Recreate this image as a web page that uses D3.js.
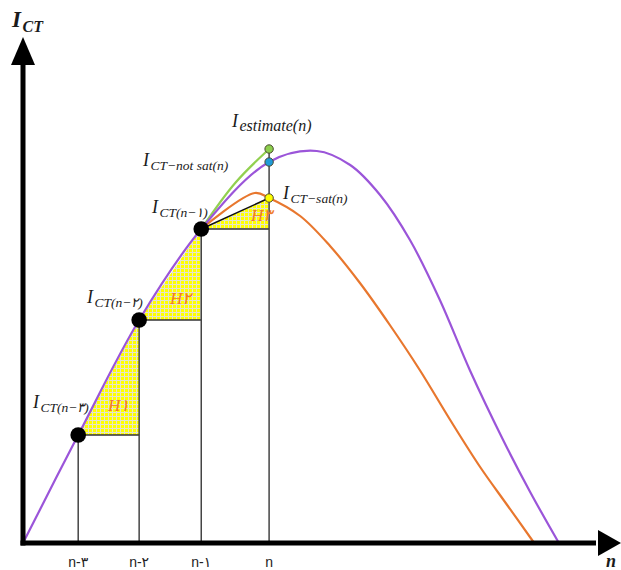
<!DOCTYPE html>
<html>
<head>
<meta charset="utf-8">
<script src="https://cdn.jsdelivr.net/npm/d3@7"></script>
<style>
  html, body { margin: 0; padding: 0; background: #fff; }
  svg { display: block; }
</style>
</head>
<body>
<svg id="chart" width="621" height="570"></svg>
<script>
// Sampling instants along the time axis
const sampleLabels = ["n-۳", "n-۲", "n-۱", "n"];
const sampleTimes  = [0.96, 2.02, 3.10, 4.28];
// Measured CT current at the three previous samples
const measuredCurrent = [21.6, 44.6, 62.8];
// Values at sample n
const satCurrent = 69.0;       // I_CT-sat(n)
const notSatCurrent = 76.2;    // I_CT-not sat(n)
const estimateCurrent = 78.8;  // I_estimate(n)

// Unsaturated current waveform (t, i)
const idealT = [0, 0.96, 2.02, 3.10, 4.28, 5.11, 5.69, 6.21, 6.73, 7.25, 7.77, 8.35, 8.82, 9.32];
const idealI = [0, 21.6, 44.6, 62.8, 76.2, 78.4, 75.6, 69.6, 60.6, 48.6, 34.6, 20.6, 10.2, 0];
// Saturated current waveform from sample n-1 onwards
const satT = [3.10, 4.03, 4.28, 4.82, 5.34, 5.86, 6.38, 6.90, 7.43, 7.95, 8.42, 8.89];
const satI = [62.8, 70.0, 69.0, 65.4, 59.4, 52.0, 43.6, 34.6, 24.6, 15.2, 7.6, 0];
// Estimated current curve from n-1 to n
const estT = [3.10, 3.69, 4.28];
const estI = [62.8, 72.0, 78.8];

const areaNames = ["H۱", "H۲", "H۳"];

const svg = d3.select("#chart");
const x = d3.scaleLinear().domain([0, 10]).range([23, 598]);
const y = d3.scaleLinear().domain([0, 100]).range([543, 43]);

const serif = "'Liberation Serif', 'DejaVu Serif', serif";
const textColor = "#1b1b1b";

// Grid-hatched yellow fill for the area triangles
const defs = svg.append("defs");
const pat = defs.append("pattern")
  .attr("id", "hatch").attr("patternUnits", "userSpaceOnUse")
  .attr("width", 4).attr("height", 4);
pat.append("rect").attr("width", 4).attr("height", 4).attr("fill", "#ffff00");
pat.append("path").attr("d", "M0,0.5H4M0.5,0V4")
  .attr("stroke", "#e4e4cc").attr("stroke-width", 1);

// Triangles between consecutive samples
const triPts = [];
for (let k = 0; k < 3; k++) {
  const t0 = sampleTimes[k], t1 = sampleTimes[k + 1];
  const v0 = measuredCurrent[k];
  const v1 = k < 2 ? measuredCurrent[k + 1] : satCurrent;
  triPts.push({ t0, t1, v0, v1, name: areaNames[k] });
}
svg.append("g").selectAll("path").data(triPts).join("path")
  .attr("d", d => `M${x(d.t0)},${y(d.v0)}L${x(d.t1)},${y(d.v1)}L${x(d.t1)},${y(d.v0)}Z`)
  .attr("fill", "url(#hatch)");

// Horizontal base of each triangle
svg.append("g").selectAll("line").data(triPts).join("line")
  .attr("x1", d => x(d.t0)).attr("x2", d => x(d.t1))
  .attr("y1", d => y(d.v0)).attr("y2", d => y(d.v0))
  .attr("stroke", "#333").attr("stroke-width", 1.5);

// Vertical sample lines
const topVals = [measuredCurrent[0], measuredCurrent[1], measuredCurrent[2], estimateCurrent];
svg.append("g").selectAll("line").data(sampleTimes).join("line")
  .attr("x1", d => x(d)).attr("x2", d => x(d))
  .attr("y1", (d, i) => y(topVals[i])).attr("y2", y(0))
  .attr("stroke", "#444").attr("stroke-width", 1.5);

// Chord from n-1 to the saturated sample
svg.append("line")
  .attr("x1", x(sampleTimes[2])).attr("y1", y(measuredCurrent[2]))
  .attr("x2", x(sampleTimes[3])).attr("y2", y(satCurrent))
  .attr("stroke", "#111").attr("stroke-width", 1.5);

// Current waveforms
const line = d3.line().x(d => x(d[0])).y(d => y(d[1])).curve(d3.curveCatmullRom.alpha(0.5));
svg.append("path").datum(d3.zip(estT, estI)).attr("d", line)
  .attr("fill", "none").attr("stroke", "#92d050").attr("stroke-width", 2.2);
svg.append("path").datum(d3.zip(satT, satI)).attr("d", line)
  .attr("fill", "none").attr("stroke", "#e8772e").attr("stroke-width", 2.2);
svg.append("path").datum(d3.zip(idealT, idealI)).attr("d", line)
  .attr("fill", "none").attr("stroke", "#9b55d9").attr("stroke-width", 2.2);

// Axes with arrow heads
const axisW = 5;
svg.append("line").attr("x1", x(0)).attr("x2", x(0))
  .attr("y1", y(0) + axisW / 2).attr("y2", y(0) - 480)
  .attr("stroke", "#000").attr("stroke-width", axisW);
svg.append("line").attr("x1", x(0) - axisW / 2).attr("x2", x(10) - 2)
  .attr("y1", y(0)).attr("y2", y(0))
  .attr("stroke", "#000").attr("stroke-width", axisW);
svg.append("path")
  .attr("d", `M${x(0)},${y(0) - 506}L${x(0) - 12},${y(0) - 478}L${x(0) + 12},${y(0) - 478}Z`)
  .attr("fill", "#000");
svg.append("path")
  .attr("d", `M${x(10) + 23},${y(0)}L${x(10)},${y(0) - 13}L${x(10)},${y(0) + 13}Z`)
  .attr("fill", "#000");

// Sample dots
svg.append("g").selectAll("circle").data(measuredCurrent).join("circle")
  .attr("cx", (d, i) => x(sampleTimes[i])).attr("cy", d => y(d))
  .attr("r", 7.8).attr("fill", "#000");
const nDots = [
  { v: estimateCurrent, c: "#8ccf4d" },
  { v: notSatCurrent, c: "#1f9bd8" },
  { v: satCurrent, c: "#ffff00" }
];
svg.append("g").selectAll("circle").data(nDots).join("circle")
  .attr("cx", x(sampleTimes[3])).attr("cy", d => y(d.v))
  .attr("r", 4.2).attr("fill", d => d.c)
  .attr("stroke", "#4a4a30").attr("stroke-width", 1);

// Tick labels
svg.append("g").selectAll("text").data(sampleLabels).join("text")
  .attr("x", (d, i) => x(sampleTimes[i])).attr("y", 567)
  .attr("text-anchor", "middle")
  .attr("font-family", "'Liberation Sans', 'DejaVu Sans', sans-serif")
  .attr("font-size", 14).attr("fill", "#222")
  .text(d => d);

// Current label with subscript
function currentLabel(px, py, sub, big, small) {
  const t = svg.append("text").attr("x", px).attr("y", py)
    .attr("font-family", serif).attr("font-style", "italic")
    .attr("fill", textColor);
  t.append("tspan").attr("font-size", big).text("I");
  t.append("tspan").attr("font-size", small).attr("dx", 1.5).attr("dy", big * 0.22).text(sub);
  return t;
}

currentLabel(232, 127, "estimate(n)", 18, 16);
currentLabel(143, 166, "CT−not sat(n)", 18, 13.5);
currentLabel(283, 199, "CT−sat(n)", 18, 13.5);
currentLabel(152, 213, "CT(n−۱)", 18, 13.5);
currentLabel(87, 303, "CT(n−۲)", 18, 13.5);
currentLabel(33, 408, "CT(n−۳)", 18, 13.5);

// Axis titles
currentLabel(12, 27, "CT", 23, 16).attr("font-weight", "bold");
svg.append("text").attr("x", 606).attr("y", 567)
  .attr("font-family", serif).attr("font-style", "italic").attr("font-weight", "bold")
  .attr("font-size", 18).attr("fill", textColor).text("n");

// Area labels
const hPos = [[108, 411], [170, 304], [251, 221]];
svg.append("g").selectAll("text").data(triPts).join("text")
  .attr("x", (d, i) => hPos[i][0]).attr("y", (d, i) => hPos[i][1])
  .attr("font-family", serif).attr("font-style", "italic")
  .attr("font-size", 17).attr("fill", "#ef7b2a")
  .text(d => d.name);
</script>
</body>
</html>
